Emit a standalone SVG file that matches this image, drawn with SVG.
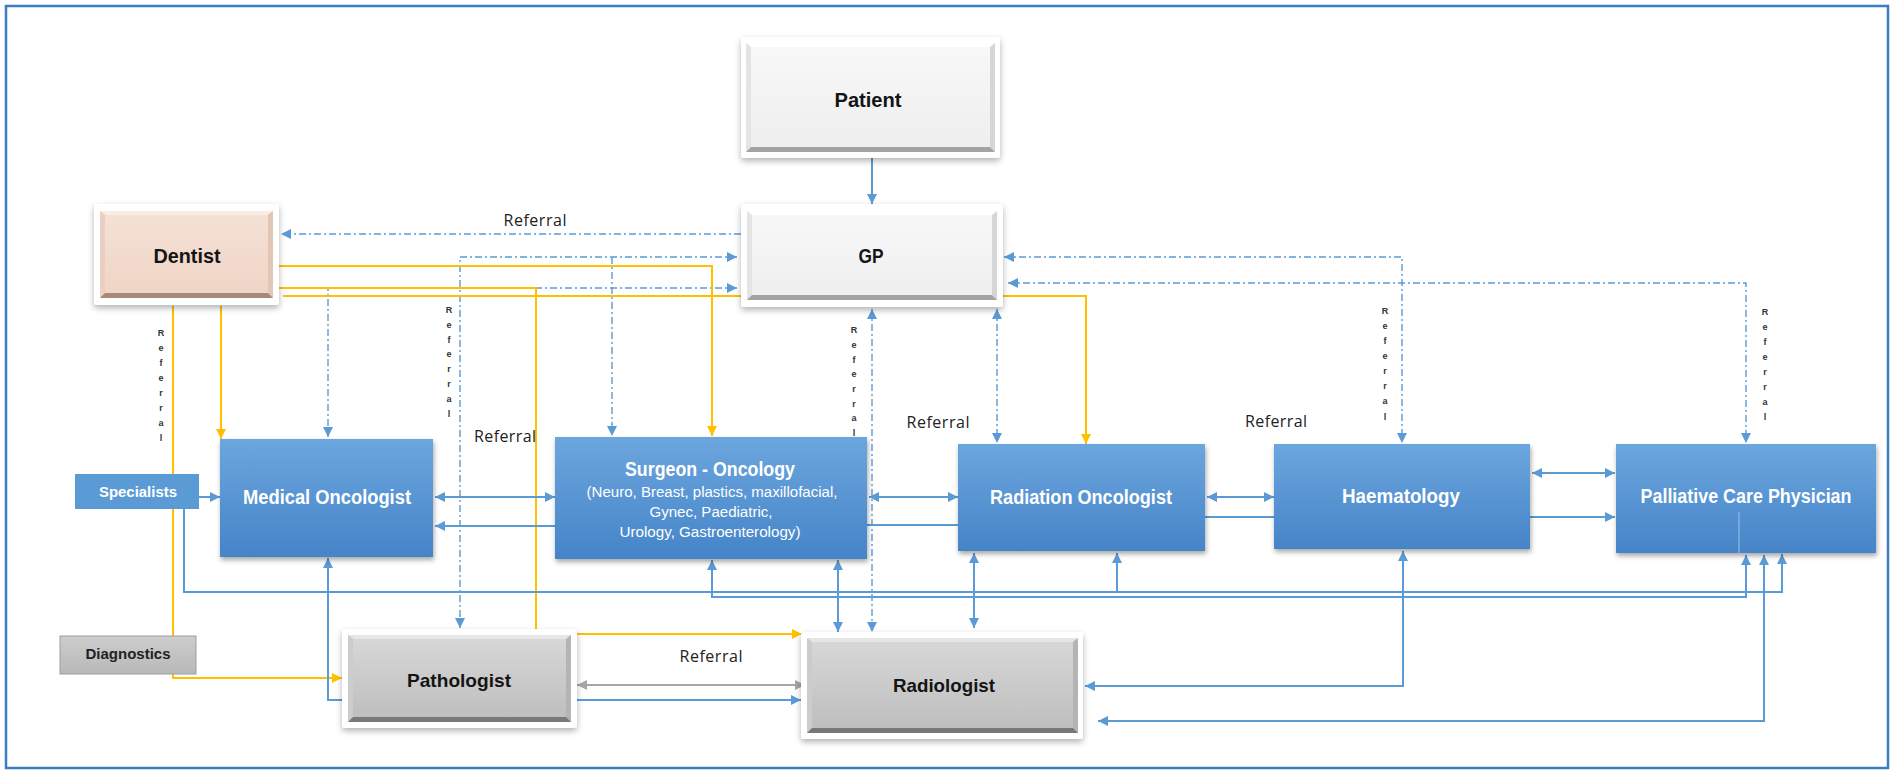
<svg xmlns="http://www.w3.org/2000/svg" width="1892" height="774" viewBox="0 0 1892 774">
  <style>
    .frame { fill: none; stroke: #3b7dc4; stroke-width: 2.5; }
    .blue { fill: none; stroke: #5b9bd5; stroke-width: 2; }
    .yel { fill: none; stroke: #ffc000; stroke-width: 2; }
    .gray { fill: none; stroke: #a6a6a6; stroke-width: 2; }
    .dd { fill: none; stroke: #5b9bd5; stroke-width: 1.4; stroke-dasharray: 7 3 2 3; }
    .thin { fill: none; stroke: #8fbbe6; stroke-width: 1.2; }
    .name { font-family: "Liberation Sans", Arial, sans-serif; font-weight: bold; text-anchor: middle; }
    .dark { fill: #141414; }
    .light { fill: #ffffff; }
    .sub { font-family: "Liberation Sans", Arial, sans-serif; font-size: 14px; fill: #ffffff; text-anchor: middle; }
    .ref { font-family: "Open Sans", "Liberation Sans", sans-serif; font-size: 16px; fill: #222222; text-anchor: middle; }
    .vref { font-family: "Liberation Sans", Arial, sans-serif; font-size: 9px; font-weight: bold; fill: #333333; text-anchor: middle; }
    .bluebox { fill: url(#gBlue); filter: url(#shBlue); }
  </style>
  <defs>
    <linearGradient id="gBlue" x1="0" y1="0" x2="0" y2="1">
      <stop offset="0" stop-color="#6ca6de"/>
      <stop offset="1" stop-color="#4584c8"/>
    </linearGradient>
    <linearGradient id="gLight" x1="0" y1="0" x2="0" y2="1">
      <stop offset="0" stop-color="#f8f8f8"/>
      <stop offset="1" stop-color="#eeeeee"/>
    </linearGradient>
    <linearGradient id="gPeach" x1="0" y1="0" x2="0" y2="1">
      <stop offset="0" stop-color="#f5e1d5"/>
      <stop offset="1" stop-color="#eed5c6"/>
    </linearGradient>
    <linearGradient id="gGray" x1="0" y1="0" x2="0" y2="1">
      <stop offset="0" stop-color="#d8d8d8"/>
      <stop offset="1" stop-color="#bdbdbd"/>
    </linearGradient>
    <linearGradient id="gDiag" x1="0" y1="0" x2="0" y2="1">
      <stop offset="0" stop-color="#cdcdcd"/>
      <stop offset="1" stop-color="#b8b8b8"/>
    </linearGradient>
    <filter id="sh" x="-10%" y="-15%" width="120%" height="140%">
      <feDropShadow dx="0" dy="3" stdDeviation="3" flood-color="#000" flood-opacity="0.3"/>
    </filter>
    <filter id="shBlue" x="-10%" y="-15%" width="120%" height="140%">
      <feDropShadow dx="1" dy="3" stdDeviation="2.5" flood-color="#000" flood-opacity="0.35"/>
    </filter>
    <marker id="ab" viewBox="0 0 10 10" refX="10" refY="5" markerWidth="10" markerHeight="10" markerUnits="userSpaceOnUse" orient="auto-start-reverse">
      <path d="M0,0 L10,5 L0,10 z" fill="#5b9bd5"/>
    </marker>
    <marker id="ay" viewBox="0 0 10 10" refX="10" refY="5" markerWidth="10" markerHeight="10" markerUnits="userSpaceOnUse" orient="auto-start-reverse">
      <path d="M0,0 L10,5 L0,10 z" fill="#ffc000"/>
    </marker>
    <marker id="ag" viewBox="0 0 10 10" refX="10" refY="5" markerWidth="10" markerHeight="10" markerUnits="userSpaceOnUse" orient="auto-start-reverse">
      <path d="M0,0 L10,5 L0,10 z" fill="#a6a6a6"/>
    </marker>
  </defs>

  <rect x="0" y="0" width="1892" height="774" fill="#ffffff"/>
  <rect class="frame" x="6" y="6" width="1882" height="762"/>

  <!-- connectors -->
  <g id="connectors">
    <!-- dash-dot referral routes -->
    <path class="dd" d="M741,234 L281,234" marker-end="url(#ab)"/>
    <path class="dd" d="M737,257 L460,257 L460,628" marker-start="url(#ab)" marker-end="url(#ab)"/>
    <path class="dd" d="M612,257 L612,436" marker-end="url(#ab)"/>
    <path class="dd" d="M737,288 L328,288 L328,437" marker-start="url(#ab)" marker-end="url(#ab)"/>
    <path class="dd" d="M872,309 L872,632" marker-start="url(#ab)" marker-end="url(#ab)"/>
    <path class="dd" d="M997,309 L997,443" marker-start="url(#ab)" marker-end="url(#ab)"/>
    <path class="dd" d="M1004,257 L1402,257 L1402,443" marker-start="url(#ab)" marker-end="url(#ab)"/>
    <path class="dd" d="M1008,283 L1746,283 L1746,443" marker-start="url(#ab)" marker-end="url(#ab)"/>

    <!-- dentist routes -->
    <path class="yel" d="M279,266 L712,266 L712,436" marker-end="url(#ay)"/>
    <path class="yel" d="M273,288 L536,288 L536,634 L802,634" marker-end="url(#ay)"/>
    <path class="yel" d="M283,296 L1086,296 L1086,444" marker-end="url(#ay)"/>
    <path class="yel" d="M221,306 L221,439" marker-end="url(#ay)"/>
    <path class="yel" d="M173,306 L173,678 L342,678" marker-end="url(#ay)"/>

    <!-- solid links -->
    <path class="blue" d="M872,158 L872,204" marker-end="url(#ab)"/>
    <path class="blue" d="M199,497 L220,497" marker-end="url(#ab)"/>
    <path class="blue" d="M435,497 L555,497" marker-start="url(#ab)" marker-end="url(#ab)"/>
    <path class="blue" d="M555,526 L435,526" marker-end="url(#ab)"/>
    <path class="blue" d="M869,497 L958,497" marker-start="url(#ab)" marker-end="url(#ab)"/>
    <path class="blue" d="M867,525 L958,525"/>
    <path class="blue" d="M1207,497 L1274,497" marker-start="url(#ab)" marker-end="url(#ab)"/>
    <path class="blue" d="M1205,517 L1274,517"/>
    <path class="blue" d="M1532,473 L1615,473" marker-start="url(#ab)" marker-end="url(#ab)"/>
    <path class="blue" d="M1530,517 L1615,517" marker-end="url(#ab)"/>
    <path class="blue" d="M328,558 L328,700 L801,700" marker-start="url(#ab)" marker-end="url(#ab)"/>
    <path class="gray" d="M577,685 L805,685" marker-start="url(#ag)" marker-end="url(#ag)"/>
    <path class="blue" d="M838,560 L838,632" marker-start="url(#ab)" marker-end="url(#ab)"/>
    <path class="blue" d="M974,553 L974,628" marker-start="url(#ab)" marker-end="url(#ab)"/>
    <path class="blue" d="M184,509 L184,592 L1782,592 L1782,554" marker-end="url(#ab)"/>
    <path class="blue" d="M1117,592 L1117,553" marker-end="url(#ab)"/>
    <path class="blue" d="M712,560 L712,597 L1746,597 L1746,555" marker-start="url(#ab)" marker-end="url(#ab)"/>
    <path class="blue" d="M1764,555 L1764,721 L1098,721" marker-start="url(#ab)" marker-end="url(#ab)"/>
    <path class="blue" d="M1403,551 L1403,686 L1085,686" marker-start="url(#ab)" marker-end="url(#ab)"/>

    <!-- referral labels -->
    <text class="ref" x="535" y="226" textLength="63">Referral</text>
    <text class="ref" x="505" y="442" textLength="62">Referral</text>
    <text class="ref" x="938" y="428" textLength="63">Referral</text>
    <text class="ref" x="1276" y="427" textLength="62">Referral</text>
    <text class="ref" x="711" y="662" textLength="63">Referral</text>

    <text class="vref"><tspan x="161" y="336">R</tspan><tspan x="161" y="351">e</tspan><tspan x="161" y="366">f</tspan><tspan x="161" y="381">e</tspan><tspan x="161" y="396">r</tspan><tspan x="161" y="411">r</tspan><tspan x="161" y="426">a</tspan><tspan x="161" y="441">l</tspan></text>
    <text class="vref"><tspan x="449" y="313">R</tspan><tspan x="449" y="328">e</tspan><tspan x="449" y="343">f</tspan><tspan x="449" y="357">e</tspan><tspan x="449" y="372">r</tspan><tspan x="449" y="387">r</tspan><tspan x="449" y="402">a</tspan><tspan x="449" y="417">l</tspan></text>
    <text class="vref"><tspan x="854" y="333">R</tspan><tspan x="854" y="348">e</tspan><tspan x="854" y="363">f</tspan><tspan x="854" y="377">e</tspan><tspan x="854" y="392">r</tspan><tspan x="854" y="407">r</tspan><tspan x="854" y="421">a</tspan><tspan x="854" y="436">l</tspan></text>
    <text class="vref"><tspan x="1385" y="314">R</tspan><tspan x="1385" y="329">e</tspan><tspan x="1385" y="344">f</tspan><tspan x="1385" y="359">e</tspan><tspan x="1385" y="374">r</tspan><tspan x="1385" y="389">r</tspan><tspan x="1385" y="404">a</tspan><tspan x="1385" y="420">l</tspan></text>
    <text class="vref"><tspan x="1765" y="315">R</tspan><tspan x="1765" y="330">e</tspan><tspan x="1765" y="345">f</tspan><tspan x="1765" y="360">e</tspan><tspan x="1765" y="375">r</tspan><tspan x="1765" y="390">r</tspan><tspan x="1765" y="405">a</tspan><tspan x="1765" y="420">l</tspan></text>
  </g>

  <!-- nodes -->
  <g id="patient">
    <rect x="741" y="37" width="259" height="121" rx="3" fill="#ffffff" filter="url(#sh)"/>
    <rect x="746" y="43" width="249" height="109" fill="url(#gLight)"/>
    <polygon points="746,43 995,43 990,47 751,47" fill="#ffffff"/>
    <polygon points="746,43 751,47 751,147 746,152" fill="#e4e4e4"/>
    <polygon points="995,43 990,47 990,147 995,152" fill="#d6d6d6"/>
    <polygon points="746,152 751,147 990,147 995,152" fill="#a3a3a3"/>
    <text class="name dark" x="868" y="107" font-size="20" textLength="67" lengthAdjust="spacingAndGlyphs">Patient</text>
  </g>

  <g id="gp">
    <rect x="741" y="204" width="262" height="103" rx="3" fill="#ffffff" filter="url(#sh)"/>
    <rect x="747" y="211" width="250" height="89" fill="url(#gLight)"/>
    <polygon points="747,211 997,211 992,215 752,215" fill="#ffffff"/>
    <polygon points="747,211 752,215 752,295 747,300" fill="#e4e4e4"/>
    <polygon points="997,211 992,215 992,295 997,300" fill="#d6d6d6"/>
    <polygon points="747,300 752,295 992,295 997,300" fill="#a3a3a3"/>
    <text class="name dark" x="871" y="263" font-size="20" textLength="25" lengthAdjust="spacingAndGlyphs">GP</text>
  </g>

  <g id="dentist">
    <rect x="94" y="204" width="185" height="101" rx="3" fill="#ffffff" filter="url(#sh)"/>
    <rect x="100" y="211" width="173" height="87" fill="url(#gPeach)"/>
    <polygon points="100,211 273,211 268,215 105,215" fill="#faece3"/>
    <polygon points="100,211 105,215 105,293 100,298" fill="#ead0c0"/>
    <polygon points="273,211 268,215 268,293 273,298" fill="#e2c6b5"/>
    <polygon points="100,298 105,293 268,293 273,298" fill="#a8897a"/>
    <text class="name dark" x="187" y="263" font-size="20" textLength="67" lengthAdjust="spacingAndGlyphs">Dentist</text>
  </g>

  <g id="specialists">
    <rect x="75" y="474" width="124" height="35" fill="#5b9bd5"/>
    <text class="name light" x="138" y="497" font-size="15" textLength="78" lengthAdjust="spacingAndGlyphs">Specialists</text>
  </g>

  <g id="diagnostics">
    <rect x="60" y="636" width="136" height="38" fill="url(#gDiag)" stroke="#9e9e9e" stroke-width="1"/>
    <text class="name" fill="#222222" x="128" y="659" font-size="15" textLength="85" lengthAdjust="spacingAndGlyphs">Diagnostics</text>
  </g>

  <g id="medical-oncologist">
    <rect class="bluebox" x="220" y="439" width="213" height="118"/>
    <text class="name light" x="327" y="504" font-size="20" textLength="168" lengthAdjust="spacingAndGlyphs">Medical Oncologist</text>
  </g>

  <g id="surgeon-oncology">
    <rect class="bluebox" x="555" y="437" width="312" height="122"/>
    <text class="name light" x="710" y="476" font-size="20" textLength="170" lengthAdjust="spacingAndGlyphs">Surgeon - Oncology</text>
    <text class="sub" x="712" y="497" textLength="251" lengthAdjust="spacingAndGlyphs">(Neuro, Breast, plastics, maxillofacial,</text>
    <text class="sub" x="711" y="517" textLength="123" lengthAdjust="spacingAndGlyphs">Gynec, Paediatric,</text>
    <text class="sub" x="710" y="537" textLength="181" lengthAdjust="spacingAndGlyphs">Urology, Gastroenterology)</text>
  </g>

  <g id="radiation-oncologist">
    <rect class="bluebox" x="958" y="444" width="247" height="107"/>
    <text class="name light" x="1081" y="504" font-size="20" textLength="182" lengthAdjust="spacingAndGlyphs">Radiation Oncologist</text>
  </g>

  <g id="haematology">
    <rect class="bluebox" x="1274" y="444" width="256" height="105"/>
    <text class="name light" x="1401" y="503" font-size="20" textLength="118" lengthAdjust="spacingAndGlyphs">Haematology</text>
  </g>

  <g id="palliative-care-physician">
    <rect class="bluebox" x="1616" y="444" width="260" height="109"/>
    <text class="name light" x="1746" y="503" font-size="20" textLength="211" lengthAdjust="spacingAndGlyphs">Palliative Care Physician</text>
  </g>

  <g id="pathologist">
    <rect x="342" y="629" width="235" height="99" rx="3" fill="#ffffff" filter="url(#sh)"/>
    <rect x="348" y="635" width="223" height="87" fill="url(#gGray)"/>
    <polygon points="348,635 571,635 566,639 353,639" fill="#e6e6e6"/>
    <polygon points="348,635 353,639 353,717 348,722" fill="#cccccc"/>
    <polygon points="571,635 566,639 566,717 571,722" fill="#b4b4b4"/>
    <polygon points="348,722 353,717 566,717 571,722" fill="#787878"/>
    <text class="name dark" x="459" y="687" font-size="19" textLength="104" lengthAdjust="spacingAndGlyphs">Pathologist</text>
  </g>

  <g id="radiologist">
    <rect x="801" y="632" width="282" height="107" rx="3" fill="#ffffff" filter="url(#sh)"/>
    <rect x="807" y="638" width="271" height="95" fill="url(#gGray)"/>
    <polygon points="807,638 1078,638 1073,642 812,642" fill="#e6e6e6"/>
    <polygon points="807,638 812,642 812,728 807,733" fill="#cccccc"/>
    <polygon points="1078,638 1073,642 1073,728 1078,733" fill="#b4b4b4"/>
    <polygon points="807,733 812,728 1073,728 1078,733" fill="#787878"/>
    <text class="name dark" x="944" y="692" font-size="19" textLength="102" lengthAdjust="spacingAndGlyphs">Radiologist</text>
  </g>

  <!-- connector segment that runs across the palliative box -->
  <g id="connectors-front">
    <path class="thin" d="M1739,512 L1739,553"/>
  </g>
</svg>
